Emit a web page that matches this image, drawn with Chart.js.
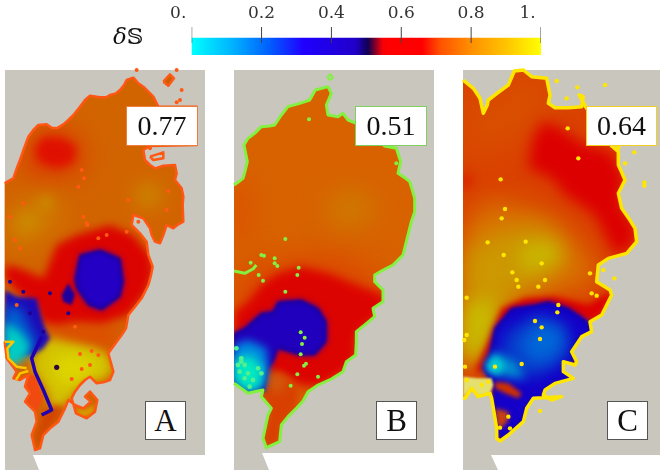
<!DOCTYPE html>
<html><head><meta charset="utf-8">
<script src="https://cdn.jsdelivr.net/npm/chart.js@4"></script>
<style>
html,body{margin:0;padding:0;background:#fff;width:660px;height:470px;overflow:hidden}
canvas{position:absolute;display:block}
.lab{position:absolute;box-sizing:border-box;background:#fff;font-family:"Liberation Serif",serif;color:#111;text-align:center}
.val{height:40px;width:72px;top:106px;font-size:28px;line-height:38px;border:1.5px solid}
.let{height:39px;width:41px;top:401px;font-size:31px;line-height:38px;border:1.5px solid #555}
#ds{position:absolute;left:113px;top:22px;font-family:"DejaVu Serif",serif;font-size:23px;line-height:28px;color:#111}
</style></head><body>
<canvas id="main" width="660" height="470" style="left:0;top:0"></canvas>
<canvas id="cbar" width="460" height="56" style="left:150px;top:0"></canvas>
<div id="ds"><i>δ</i>𝕊</div>
<div class="lab val" style="left:126px;border-color:#ee7c3a">0.77</div>
<div class="lab val" style="left:355px;border-color:#7fd060">0.51</div>
<div class="lab val" style="left:586px;width:71px;border-color:#f5cf20">0.64</div>
<div class="lab let" style="left:145px">A</div>
<div class="lab let" style="left:376px">B</div>
<div class="lab let" style="left:607px">C</div>
<script>
// ---- colour bar
const cbTicks=[0,0.2,0.4,0.6,0.8,1];
const cbLabels=['0.\u00a0\u00a0\u00a0\u00a0\u00a0','0.2','0.4','0.6','0.8','1.\u00a0\u00a0\u00a0\u00a0\u00a0'];
const cbStops=[[0,'#00ffff'],[.12,'#00b0ff'],[.22,'#0060ff'],[.32,'#2000ff'],[.47,'#2000c8'],[.505,'#100050'],[.545,'#f00008'],[.56,'#ff0000'],[.66,'#ff0000'],[.71,'#ff5000'],[.8,'#ff9000'],[.9,'#ffc400'],[1,'#ffff00']];
// ---- panel frames (grey background) in page units
const frameA=[5,70,205,70,205,455,33,455,39,470,5,470];
const frameB=[234,70,434,70,434,453,262,453,269,470,234,470];
const frameC=[463,70,660,70,660,455,491,455,498,470,463,470];
// ---- region outlines (3x units from each panel's origin, y from 65)
const aOutline=[14,355,22,350,40,340,52,305,60,285,72,250,85,215,100,195,115,180,140,178,155,188,170,190,190,178,205,165,222,148,240,125,255,105,270,92,300,97,318,97,330,90,348,85,360,75,372,60,380,45,400,38,415,55,430,65,445,80,460,95,475,125,590,125,590,240,450,243,430,255,435,285,450,300,465,310,490,302,525,300,530,325,525,345,545,370,550,395,548,420,550,470,535,478,520,490,500,480,490,510,480,535,465,530,455,510,450,490,430,460,400,450,395,480,420,505,440,530,445,570,458,605,452,635,445,660,425,700,405,725,385,750,378,790,365,810,350,830,325,865,340,920,330,945,310,952,290,955,270,935,255,945,240,960,225,980,215,1000,228,1045,260,1060,285,1040,292,1005,270,980,255,995,272,1010,250,1030,225,1020,205,1005,195,1030,175,1070,150,1090,130,1110,120,1150,105,1155,95,1110,110,1070,105,1040,75,1010,90,985,75,965,85,930,60,945,40,940,50,920,20,880,14,830];
const bOutline=[18,360,30,352,45,340,52,315,58,290,48,240,60,220,80,205,100,185,125,183,140,180,160,150,180,125,215,115,245,105,262,75,300,65,310,85,295,120,300,150,330,155,345,145,360,165,385,175,470,243,505,250,518,290,510,325,530,338,545,350,553,375,560,400,560,440,550,470,545,490,535,530,525,570,495,600,460,618,440,630,440,650,465,675,465,710,435,730,440,755,412,778,385,800,385,830,383,870,355,890,345,920,310,942,270,960,240,980,225,1008,205,1030,180,1055,160,1080,155,1130,115,1148,105,1120,120,1050,130,1030,100,995,105,975,60,985,18,955];
const cOutline=[24,45,55,70,75,100,85,145,97,120,100,105,130,82,160,60,178,18,205,15,230,35,275,40,285,90,280,115,300,128,340,128,380,125,385,95,372,90,392,125,470,243,490,260,490,300,500,322,510,345,490,385,500,430,520,458,540,490,545,530,515,565,460,580,430,600,425,650,465,675,470,690,455,720,440,750,405,770,410,800,380,815,350,860,365,890,360,900,325,890,325,920,355,940,300,955,270,975,265,990,290,1005,320,995,235,1000,215,1030,205,1070,160,1110,135,1128,125,1120,125,1090,110,1000,105,985,70,995,50,970,30,1000,24,1000];
// ---- panel A regions
const aWarm=[95,220,150,185,230,210,260,280,225,330,130,340,60,320];
const aRedCore=[105,250,130,215,190,220,230,245,220,295,170,310,115,290];
const aWarmLeft=[14,470,60,420,130,385,190,420,170,470,100,540,50,540,14,520];
const aGoldLeft=[45,470,90,445,115,470,80,500];
const aGoldMid=[110,405,150,395,165,420,125,430];
const aGoldRight=[400,385,440,355,490,380,470,420,420,420];
const aRed=[130,640,170,540,230,510,330,480,400,510,450,570,460,620,440,680,385,750,310,775,230,770,170,780,120,770,110,730,60,690,14,640,14,600,60,610];
const aBlueHole=[225,640,240,570,300,555,360,580,370,650,360,695,305,735,265,720,230,670];
const aBlueSmall=[185,690,205,655,225,690,215,720,190,710];
const aOrangeMid=[130,790,200,770,300,770,380,790,345,830,325,865,200,840];
const aYellow=[95,880,130,830,160,820,200,830,290,850,325,870,340,920,300,950,265,940,235,965,215,1000,165,1040,130,960,100,920];
const aYellowCore=[150,880,220,860,290,890,280,930,220,960,175,960];
const aLeftBlue=[14,675,50,695,110,700,125,760,135,790,150,820,130,850,95,870,50,870,14,850];
const aMidBlue=[14,720,60,730,90,790,110,830,90,860,14,850];
const aCyan=[14,770,60,800,90,840,85,870,50,900,14,900];
const aTip=[105,1120,120,1150,130,1110,195,1030,170,1020,130,1040];
const aBand=[125,815,95,880,105,920,130,975,155,1035,125,1050];
const aFringe=[75,1010,90,985,75,965,85,930,105,930,130,1000,110,1040];
const aPocket=[225,1030,255,1035,285,1020,280,1045,250,1055,232,1045];
const aGoldEdge=[14,830,40,830,22,850,25,880,50,905,80,910];
const aGoldEdge2=[48,945,60,925,85,918];
const aIsle1=[490,50,510,28,522,40,505,62];
const aIsle2=[450,275,490,262,490,280,460,285];
const aSpecks=[245,315,252,340,235,365,70,415,385,405,505,378,500,435,260,475,320,510,380,500,45,525,60,550,250,455,262,480,295,520,545,75,540,105,530,112,410,15,530,15,450,250,30,455,240,867,275,858,295,870,270,900,245,912,215,942,225,785,50,720,415,470];
const aHoleDot=[170,907];
const aBlueDots=[30,650,70,680,150,685,205,745,90,745,130,800];
// ---- panel B regions
const bWarm=[18,640,100,600,300,570,470,640,470,720,385,800,345,920,220,960,18,900];
const bGold=[290,420,370,370,450,420,400,480,320,480];
const bRedEdge=[18,360,60,340,60,500,18,560];
const bRed=[18,740,60,710,100,660,150,625,220,605,300,625,400,665,470,690,470,720,440,760,385,810,385,880,345,925,270,965,220,960,130,920,18,900];
const bBlue=[18,805,50,790,100,745,135,740,150,710,220,705,270,730,295,770,295,830,260,870,215,870,150,850,135,890,120,910,108,980,90,970,60,980,18,950];
const bLightBlue=[18,840,60,825,115,850,120,910,105,970,60,980,18,950];
const bCyan=[18,880,70,870,105,910,100,965,60,980,18,950];
const bTail=[105,950,150,920,190,940,210,985,205,1030,160,1080,155,1130,115,1148,105,1120,125,1040,105,995];
const bTailCore=[120,940,155,930,170,960,140,985];
const bArc=[18,618,50,625,75,612,85,600];
const bIsle=[298,35,307,28,315,38,305,45];
const bSpecks=[218,802,230,818,222,837,218,868,228,902,234,896,208,928,270,935,188,962,172,680,208,630,212,608,92,630,105,647,148,603,243,163,172,522,505,295,100,570,108,572,140,580,140,595,68,593];
const bMint=[25,850,40,890,50,900,35,920,90,910,100,925,30,900,60,925,50,940,75,945,65,965,40,880];
// ---- panel C regions
const cOrange=[24,480,100,400,200,420,300,460,400,560,430,640,400,670,250,690,150,730,110,790,80,900,24,900];
const cTopWarm=[24,45,85,145,178,18,275,40,285,120,200,220,24,280];
const cGold=[24,560,120,500,260,480,330,560,280,650,180,680,120,780,90,880,24,900];
const cYellowL=[30,720,120,700,110,800,60,880,24,880];
const cYellowR=[200,540,300,530,320,590,200,620];
const cRedCore=[220,310,230,230,260,170,300,180,390,240,470,260,490,300,510,345,495,390,500,430,545,490,530,550,480,570,420,450,330,390,290,340];
const cRedLeft=[24,320,50,345,24,375];
const cRing=[60,920,100,830,140,730,210,700,300,695,400,720,465,680,470,690,440,750,405,770,380,760,280,800,160,850,100,920];
const cBlue=[85,910,105,865,120,790,170,730,240,720,280,710,340,730,400,770,410,805,380,815,350,860,365,890,325,890,325,920,355,940,300,955,270,975,265,990,290,1005,235,1000,215,1030,205,1070,135,1128,125,1090,115,1010,115,960,90,920];
const cMidBlue=[150,800,250,750,340,790,335,880,260,930,170,940,130,900];
const cLightBlue=[200,830,250,770,320,790,325,850,270,890,210,880];
const cCyanHalo=[85,905,120,860,180,890,210,940,130,930];
const cCyan=[95,900,120,870,150,900,130,930,100,920];
const cRedA=[120,950,160,955,200,985,190,1000,150,985,120,970];
const cRedB=[120,1030,160,1040,160,1065,140,1090,125,1080];
const cPale=[24,935,70,940,110,940,115,960,105,985,70,995,50,970,24,1000];
const cSpecks=[338,190,370,280,137,343,150,432,140,460,98,532,212,530,146,570,260,595,450,60,538,262,568,352,568,362,510,295,335,100,305,48,367,67,490,248,172,622,185,645,190,665,270,645,250,665,405,625,478,640,445,615,410,685,425,692,35,698,240,768,260,787,255,822,200,897,120,905,310,720,307,742,255,1038,160,1055,165,1090,135,1088,35,810,30,905,28,825,35,945,80,960,100,950];
// ---- assemble
function pts(x0,a){const r=[];for(let i=0;i<a.length;i+=2)r.push({x:x0+a[i]/3,y:65+a[i+1]/3});return r;}
function raw(a){const r=[];for(let i=0;i<a.length;i+=2)r.push({x:a[i],y:a[i+1]});return r;}
const list=[];
function area(d,color,blur,clip){list.push({type:'scatter',showLine:true,data:d,fill:'shape',backgroundColor:color,borderWidth:0,pointRadius:0,tension:0,blur:blur||0,clipTo:clip||null});}
function stroke(d,color,w,clip){list.push({type:'scatter',showLine:true,data:d,fill:false,borderColor:color,borderWidth:w,pointRadius:0,tension:0,borderJoinStyle:'round',clipTo:clip||null,blur:0});}
function dots(d,color,r,clip){list.push({type:'scatter',showLine:false,data:d,pointRadius:r,pointBorderWidth:0,pointBackgroundColor:color,clipTo:clip||null,blur:0});}
function panel(x0,frame,outline,base,edge,edgeW,layers,after){
  area(raw(frame),'#c9c6be');
  const o=pts(x0,outline);
  area(o,base);
  layers.forEach(l=>{const d=pts(x0,l[0]);l[3]?stroke(d,l[1],l[3],o):area(d,l[1],l[2],o);});
  stroke(o,edge,edgeW);
  after(x0);
}
panel(0,frameA,aOutline,'#d26400','#ff5614',2.5,[
 [aWarm,'#dc3a00',14],[aRedCore,'#e01000',5],[aWarmLeft,'#cf7e00',12],[aGoldLeft,'#c89400',8],[aGoldMid,'#c89200',6],[aGoldRight,'#c89000',10],
 [aOrangeMid,'#dc5000',8],[aRed,'#dc0400',4],[aYellow,'#d2c000',5],[aYellowCore,'#dcd400',7],
 [aTip,'#d24400',3],[aFringe,'#f04a10',1],[aPocket,'#d8a000',2],
 [aLeftBlue,'#1c0ab8',2],[aMidBlue,'#0064d0',6],[aCyan,'#00ccc4',4],
 [aBand,'#2000b0',0,3.5],
 [aBlueHole,'#150070',1.5],[aBlueHole,'#2400c4',3],[aBlueSmall,'#1c00a0',1.5]
],x=>{
 stroke(pts(x,aGoldEdge),'#ffc400',2.5);stroke(pts(x,aGoldEdge2),'#ffc400',2.5);
 area(pts(x,aIsle1),'#c86000');stroke(pts(x,aIsle1.concat(aIsle1.slice(0,2))),'#ff5a14',2.5);
 stroke(pts(x,aIsle2.concat(aIsle2.slice(0,2))),'#ff5a14',2.5);
 dots(pts(x,aSpecks),'#ff5a14',2);dots(pts(x,aBlueDots),'#1c0090',2);dots(pts(x,aHoleDot),'#300040',2.6);
});
panel(228,frameB,bOutline,'#d86200','#84f040',3,[
 [bWarm,'#dc4400',16],[bGold,'#cc7e00',14],[bRedEdge,'#dc4c00',12],[bRed,'#dc0400',5],
 [bTail,'#d84000',3],[bTailCore,'#cc6a14',6],
 [bBlue,'#160080',1.5],[bBlue,'#2000bc',3],[bLightBlue,'#0088e0',4],[bCyan,'#00e8c0',5]
],x=>{
 stroke(pts(x,bArc),'#84f040',3);stroke(pts(x,bIsle.concat(bIsle.slice(0,2))),'#84f040',2);
 dots(pts(x,bSpecks),'#84f040',2);dots(pts(x,bMint),'#50f090',2.4);
});
panel(455,frameC,cOutline,'#da4200','#ffe600',3.5,[
 [cTopWarm,'#d85000',16],[cOrange,'#d87000',12],[cGold,'#cc9800',12],[cYellowL,'#c8bc00',9],[cYellowR,'#c8b800',9],
 [cRedCore,'#dc0000',7],[cRedLeft,'#dc0000',6],[cRing,'#dc0000',3],
 [cBlue,'#14008c',1.5],[cBlue,'#1400c8',3],[cMidBlue,'#083ccc',8],[cLightBlue,'#0068d8',8],
 [cCyanHalo,'#0090d0',5],[cCyan,'#00ccd0',3],[cRedA,'#d03000',2],[cRedB,'#c84010',2],[cPale,'#e4e070',1]
],x=>{dots(pts(x,cSpecks),'#ffe600',2.2);});

// Chart.js paints dataset 0 last, so the list is reversed: first listed = bottom.
const sets=list.slice().reverse();
function prep(chart,i){
  const c=chart.ctx;c.save();
  const d=chart.data.datasets[i];if(!d)return;
  if(d.clipTo){const sx=chart.scales.x,sy=chart.scales.y;c.beginPath();
    d.clipTo.forEach((p,k)=>{const X=sx.getPixelForValue(p.x),Y=sy.getPixelForValue(p.y);k?c.lineTo(X,Y):c.moveTo(X,Y);});c.closePath();c.clip();}
  if(d.blur)c.filter='blur('+d.blur+'px)';
}
const softRegions={id:'softRegions',
  beforeDatasetsDraw(chart){prep(chart,chart.data.datasets.length-1);},
  afterDatasetDraw(chart,args){chart.ctx.restore();if(args.index>0)prep(chart,args.index-1);else chart.ctx.save();},
  afterDatasetsDraw(chart){chart.ctx.restore();}
};
new Chart(document.getElementById('main'),{type:'scatter',data:{datasets:sets},plugins:[softRegions],options:{
  responsive:false,animation:false,events:[],layout:{padding:0,autoPadding:false},
  plugins:{legend:{display:false},tooltip:{enabled:false}},
  scales:{x:{type:'linear',min:0,max:660,display:false},y:{type:'linear',min:0,max:470,reverse:true,display:false}}}});

new Chart(document.getElementById('cbar'),{type:'bar',data:{datasets:[
  ...cbTicks.map(v=>({type:'line',data:[{x:v,y:12},{x:v,y:28}],borderColor:'#444',borderWidth:1,pointRadius:0})),
  {type:'bar',data:[{x:.5,y:[0,17]}],barThickness:350,borderWidth:0,
   backgroundColor(ctx){const a=ctx.chart.chartArea;if(!a)return '#f00';const g=ctx.chart.ctx.createLinearGradient(a.left,0,a.right,0);cbStops.forEach(s=>g.addColorStop(s[0],s[1]));return g;}}
]},options:{responsive:false,animation:false,events:[],layout:{autoPadding:false,padding:{left:41.7,right:69,top:0,bottom:1}},
  plugins:{legend:{display:false},tooltip:{enabled:false}},
  scales:{
   x:{type:'linear',position:'top',offset:false,min:0,max:1,border:{display:false},grid:{display:false,drawTicks:false,offset:false},
      afterBuildTicks(s){s.ticks=cbTicks.map(v=>({value:v}));},
      afterFit(s){s.height=27;},
      ticks:{autoSkip:false,maxRotation:0,padding:3,color:'#333',font:{family:'"DejaVu Serif"',size:17},callback(v){return cbLabels[cbTicks.indexOf(v)];}}},
   y:{type:'linear',min:0,max:28,display:false}}}});
</script></body></html>
